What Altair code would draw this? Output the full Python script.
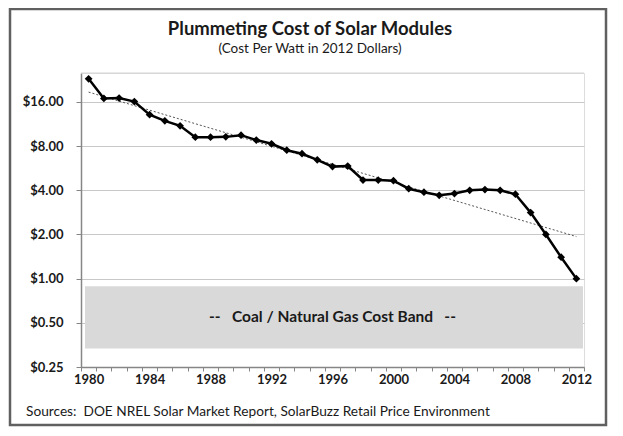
import altair as alt
import pandas as pd

# ---- data ----
years = list(range(1980, 2013))
costs = [23.0, 16.9, 17.0, 16.1, 13.1, 11.9, 11.0, 9.2, 9.2, 9.25, 9.5,
         8.8, 8.3, 7.5, 7.1, 6.45, 5.8, 5.85, 4.7, 4.7, 4.65, 4.1, 3.88,
         3.7, 3.8, 4.0, 4.05, 4.0, 3.76, 2.82, 2.0, 1.4, 1.0]
band_low = 0.334
band_high = 0.886
band_label = "--\u00a0\u00a0\u00a0Coal / Natural Gas Cost Band\u00a0\u00a0\u00a0--"
band_label_year = 1996
y_ticks = [0.25, 0.5, 1, 2, 4, 8, 16]
y_top = 25.2
title_text = "Plummeting Cost of Solar Modules"
subtitle_text = "(Cost Per Watt in 2012 Dollars)"
source_text = "Sources:\u00a0\u00a0DOE NREL Solar Market Report, SolarBuzz Retail Price Environment"

# ---- layout / style ----
W, H = 503, 294
FONT = "Lato"
TXT = "#1a1a1a"
AX = "#868686"

df = pd.DataFrame({"year": years, "cost": costs})
band_df = pd.DataFrame({
    "lo": [band_low], "hi": [band_high], "label": [band_label],
    "year": [band_label_year], "mid": [(band_low * band_high) ** 0.5],
})
one = pd.DataFrame({"k": [0]})

x_scale = alt.Scale(type="band", paddingInner=0, paddingOuter=0, domain=years)
y_scale = alt.Scale(type="log", base=2, domain=[0.25, y_top], nice=False)

x_axis = alt.Axis(values=years, labelExpr="datum.value % 4 == 0 ? datum.label : ''",
                  tickBand="extent", grid=False, domainColor=AX, domainWidth=1.5,
                  tickColor=AX, tickSize=4, labelPadding=2, labelFontWeight="bold",
                  labelFontSize=13, labelColor=TXT, labelAngle=0, labelOverlap=False,
                  title=None, labelFont=FONT)
y_axis = alt.Axis(values=y_ticks, format="$.2f", grid=True, gridColor="#c8c8c8",
                  domainColor=AX, domainWidth=1.5, tickColor=AX, tickSize=5,
                  labelPadding=13, labelFontWeight="bold", labelFontSize=13,
                  labelColor=TXT, title=None, labelFont=FONT)

X = alt.X("year:O", scale=x_scale, axis=x_axis)

frame = alt.Chart(one).mark_rect(fillOpacity=0, stroke="#606060", strokeWidth=2.5).encode(
    x=alt.value(-71), x2=alt.value(525), y=alt.value(-64), y2=alt.value(352))

top_rule = alt.Chart(one).mark_rule(color="#d4d4d4", strokeWidth=1).encode(y=alt.value(0))

band = alt.Chart(band_df).mark_rect(color="#d9d9d9").encode(
    y=alt.Y("lo:Q", scale=y_scale, axis=y_axis), y2="hi:Q",
    x=alt.value(4), x2=alt.value(W - 1))

band_txt = alt.Chart(band_df).mark_text(font=FONT, fontSize=15.5, fontWeight="bold",
                                         color=TXT, baseline="middle").encode(
    x=X, y=alt.Y("mid:Q", scale=y_scale, axis=y_axis), text="label:N")

trend = alt.Chart(df).transform_calculate(lc="log(datum.cost)").transform_regression(
    "year", "lc").transform_calculate(fit="exp(datum.lc)").mark_line(
    color="#555555", strokeWidth=1, strokeDash=[2, 2]).encode(
    x=X, y=alt.Y("fit:Q", scale=y_scale, axis=y_axis))

line = alt.Chart(df).mark_line(color="black", strokeWidth=2.5,
                               point=alt.OverlayMarkDef(shape="diamond", filled=True,
                                                        color="black", size=60)).encode(
    x=X, y=alt.Y("cost:Q", scale=y_scale, axis=y_axis))

title = alt.Chart(pd.DataFrame({"t": [title_text]})).mark_text(
    font=FONT, fontSize=18.5, fontWeight="bold", color=TXT, align="center",
    baseline="alphabetic").encode(x=alt.value(229), y=alt.value(-38.5), text="t:N")
subtitle = alt.Chart(pd.DataFrame({"t": [subtitle_text]})).mark_text(
    font=FONT, fontSize=13.5, color=TXT, align="center",
    baseline="alphabetic").encode(x=alt.value(229), y=alt.value(-20.5), text="t:N")
source = alt.Chart(pd.DataFrame({"t": [source_text]})).mark_text(
    font=FONT, fontSize=13.7, color=TXT, align="left",
    baseline="alphabetic").encode(x=alt.value(-55), y=alt.value(343.4), text="t:N")

chart = alt.layer(frame, top_rule, band, band_txt, trend, line, title, subtitle, source).properties(
    width=W, height=H,
    padding={"left": 73, "top": 65, "right": 31, "bottom": 61},
    autosize=alt.AutoSizeParams(type="none"),
).configure_view(stroke="transparent").configure(font=FONT, background="white")

chart.save("out.html", embed_options={"renderer": "svg", "actions": False})
